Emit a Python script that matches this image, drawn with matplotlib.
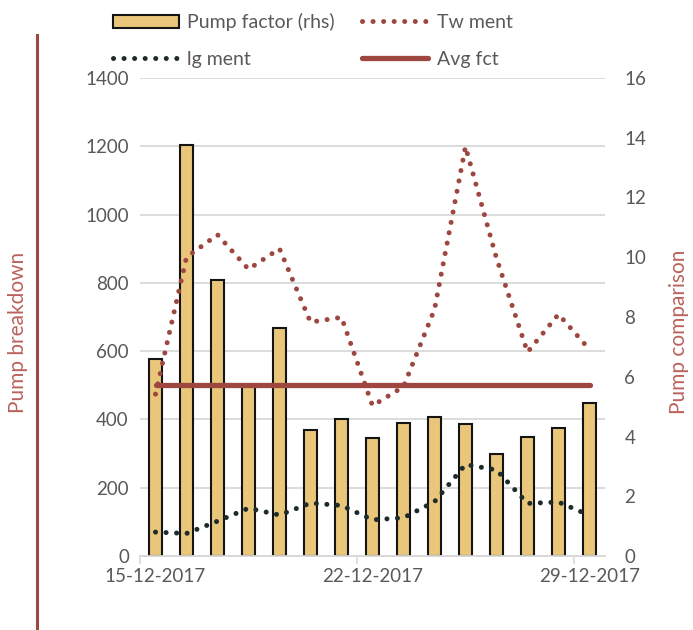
import numpy as np
import pandas as pd
import matplotlib
matplotlib.use('Agg')
import matplotlib.pyplot as plt
import matplotlib.dates as mdates
from matplotlib.lines import Line2D

plt.rcParams['font.family'] = ['Lato', 'DejaVu Sans']

# data
dates = pd.to_datetime(['2017-12-15', '2017-12-16', '2017-12-17', '2017-12-18', '2017-12-19',
                        '2017-12-20', '2017-12-21', '2017-12-22', '2017-12-23', '2017-12-24',
                        '2017-12-25', '2017-12-26', '2017-12-27', '2017-12-28', '2017-12-29'])
pump_factor = [6.58, 13.76, 9.24, 5.70, 7.64, 4.23, 4.59, 3.95, 4.45, 4.66, 4.42, 3.40, 3.99, 4.27, 5.13]
tw_ment = [474, 875, 941, 840, 900, 685, 699, 440, 496, 722, 1199, 872, 597, 708, 605]
lg_ment = [70, 66, 102, 140, 120, 155, 148, 106, 112, 159, 268, 252, 154, 158, 119]
avg_fct = [np.mean(pump_factor)] * len(dates)

RED = '#9E4640'
LABEL_RED = '#BA625B'
DARK = '#1E2B2B'
BAR = '#E9C67A'
GRID = '#D9D9D9'
TXT = '#595959'

fig = plt.figure(figsize=(6.93, 6.30), dpi=100)
rect = [140 / 693, 74 / 630, 465 / 693, 478 / 630]

ax = fig.add_axes(rect)          # left axis + gridlines (bottom layer)
ax2 = ax.twinx()                 # right axis: bars + average
ax3 = fig.add_axes(rect, sharex=ax, sharey=ax)  # lines on top
ax3.axis('off')

ax.set_ylim(0, 1400)
ax.set_yticks(range(0, 1401, 200))
ax.grid(axis='y', color=GRID, linewidth=1.3)
ax.set_axisbelow(True)

ax2.set_ylim(0, 16)
ax2.set_yticks(range(0, 17, 2))

bars = ax2.bar(dates, pump_factor, width=0.42, color=BAR, edgecolor='#141414',
               linewidth=1.5, label='Pump factor (rhs)')
avg_line, = ax2.plot(dates, avg_fct, color=RED, linewidth=3.8,
                     solid_capstyle='round', label='Avg fct')

tw_line, = ax3.plot(dates, tw_ment, color=RED, linewidth=3.6,
                    linestyle=(0, (0.01, 2.1)), dash_capstyle='round', label='Tw ment')
lg_line, = ax3.plot(dates, lg_ment, color=DARK, linewidth=3.6,
                    linestyle=(0, (0.01, 2.1)), dash_capstyle='round', label='lg ment')

ax.set_xlim(pd.Timestamp('2017-12-14 12:00'), pd.Timestamp('2017-12-29 12:00'))
ax.xaxis.set_major_locator(mdates.DayLocator(bymonthday=[15, 22, 29]))
ax.xaxis.set_major_formatter(mdates.DateFormatter('%d-%m-%Y'))
ax.set_xticks([pd.Timestamp('2017-12-14 12:00'), pd.Timestamp('2017-12-21 12:00'),
               pd.Timestamp('2017-12-28 12:00')], minor=True)
ax.tick_params(axis='x', which='major', length=0, pad=9, labelsize=13.5, labelcolor=TXT)
ax.tick_params(axis='x', which='minor', length=6, width=1.2, color=GRID, direction='out')

for a in (ax, ax2):
    for s in ('top', 'left', 'right'):
        a.spines[s].set_visible(False)
    a.spines['bottom'].set_color(GRID)
    a.spines['bottom'].set_linewidth(1.3)
ax.tick_params(axis='y', length=0, pad=8, labelsize=13.5, labelcolor=TXT)
ax2.tick_params(axis='y', length=0, pad=14, labelsize=13.5, labelcolor=TXT)

fig.text(18 / 693, 1 - 332 / 630, 'Pump breakdown', rotation=90, ha='center', va='center',
         fontsize=15, color=LABEL_RED)
fig.text(679 / 693, 1 - 332 / 630, 'Pump comparison', rotation=90, ha='center', va='center',
         fontsize=15, color=LABEL_RED)

# decorative vertical rule on the left
fig.add_artist(Line2D([37 / 693, 37 / 693], [0, 1 - 35 / 630], color=RED, linewidth=2.2))

fig.legend([bars, lg_line, tw_line, avg_line],
           ['Pump factor (rhs)', 'lg ment', 'Tw ment', 'Avg fct'],
           ncol=2, loc='upper left', bbox_to_anchor=(95 / 693, 1.007), frameon=False,
           fontsize=14, handlelength=3.4, handletextpad=0.45, columnspacing=1.4,
           labelspacing=1.0, labelcolor=TXT)

fig.savefig('out.png', dpi=100)
